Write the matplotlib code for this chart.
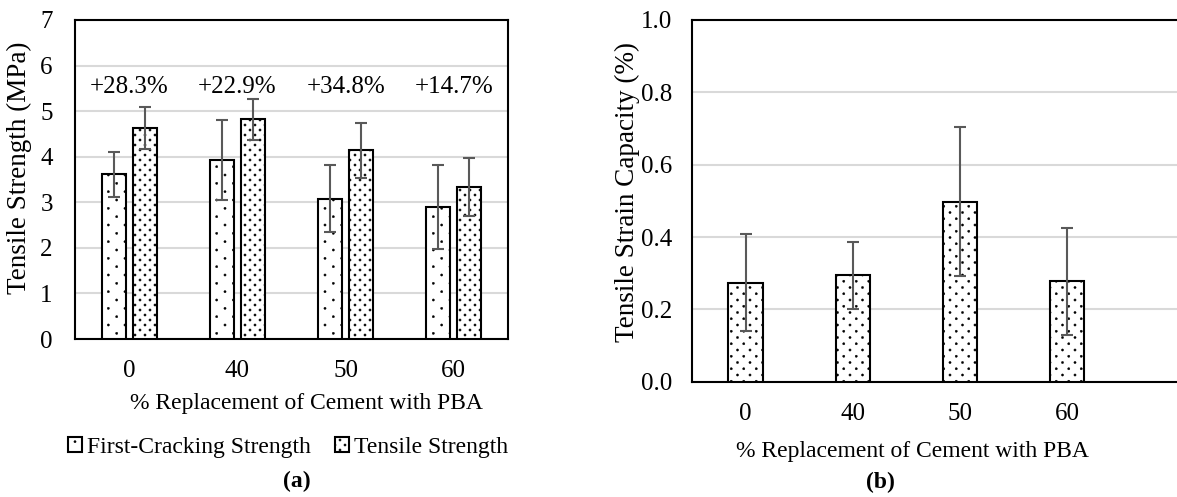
import matplotlib
matplotlib.use("Agg")
import matplotlib.pyplot as plt
import matplotlib.hatch as mhatch
from matplotlib.path import Path
import numpy as np

plt.rcParams['font.family'] = ['Liberation Serif', 'DejaVu Serif']
plt.rcParams['hatch.linewidth'] = 0.3

categories = ["0", "40", "50", "60"]
first_crack = [3.61, 3.92, 3.08, 2.90]
first_crack_err = [0.49, 0.88, 0.73, 0.92]
tensile = [4.63, 4.82, 4.14, 3.33]
tensile_err = [0.47, 0.45, 0.60, 0.64]
increase_labels = ["+28.3%", "+22.9%", "+34.8%", "+14.7%"]
label_y = 5.53

strain = [0.274, 0.294, 0.497, 0.278]
strain_err = [0.135, 0.092, 0.206, 0.148]


# custom dotted hatch lattices (rows, cols per inch) keyed by number of '.'
class DotLattice(mhatch.HatchPatternBase):
    CONF = {1: (12, 6), 2: (16, 8), 3: (20, 10)}
    R = 0.011

    def __init__(self, hatch, density):
        n = hatch.count('.')
        self.conf = self.CONF.get(n)
        circ = Path.unit_circle()
        self.sv = circ.vertices * self.R
        self.sc = circ.codes
        if self.conf is None:
            self.num_vertices = 0
            self.pts = []
            return
        rows, cols = self.conf
        pts = []
        for r in range(rows + 1):
            yy = r / rows
            if r % 2 == 0:
                xs = np.arange(cols + 1) / cols
            else:
                xs = (np.arange(cols) + 0.5) / cols
            for xx in xs:
                pts.append((xx, yy))
        self.pts = pts
        self.num_vertices = len(pts) * len(self.sv)

    def set_vertices_and_codes(self, vertices, codes):
        np.concatenate([self.sv + np.array(p) for p in self.pts], out=vertices)
        np.concatenate([self.sc for _ in self.pts], out=codes)


mhatch._hatch_types = [DotLattice if t is mhatch.SmallFilledCircles else t
                       for t in mhatch._hatch_types]

FS = 18      # ticks / annotations
FS_L = 17    # long horizontal texts
FS_Y = 19.5  # y-axis titles
W, H = 1177, 497
fig = plt.figure(figsize=(W / 100, H / 100), dpi=100)

grid_c = '#d9d9d9'
err_c = '#595959'

# ---- Panel (a)
ax1 = fig.add_axes([75 / W, 1 - 339 / H, 433 / W, 319 / H])
x = np.arange(len(categories))
bw = 0.22
off = 0.143
ax1.bar(x - off, first_crack, bw, facecolor='white', edgecolor='black', linewidth=1.5,
        hatch='.', label='First-Cracking Strength', zorder=3)
ax1.bar(x + off, tensile, bw, facecolor='white', edgecolor='black', linewidth=1.5,
        hatch='...', label='Tensile Strength', zorder=3)
ax1.errorbar(x - off, first_crack, yerr=first_crack_err, fmt='none', ecolor=err_c,
             elinewidth=1.5, capsize=4.5, capthick=1.5, zorder=4)
ax1.errorbar(x + off, tensile, yerr=tensile_err, fmt='none', ecolor=err_c,
             elinewidth=1.5, capsize=4.5, capthick=1.5, zorder=4)
for xi, t in zip(x, increase_labels):
    ax1.text(xi, label_y, t, ha='center', va='center', fontsize=FS)
ax1.set_xlim(-0.5, 3.5)
ax1.set_ylim(0, 7)
ax1.set_yticks(np.arange(0, 8, 1))
ax1.set_xticks(x)
ax1.set_xticklabels(categories)
ax1.yaxis.grid(True, color=grid_c, linewidth=1.5, zorder=0)
ax1.set_axisbelow(True)
ax1.tick_params(axis='both', length=0, labelsize=FS)
ax1.tick_params(axis='y', pad=16)
ax1.tick_params(axis='x', pad=15)
for s in ax1.spines.values():
    s.set_linewidth(1.5)
    s.set_color('black')
ax1.set_ylabel('Tensile Strength (MPa)', fontsize=FS_Y)
ax1.yaxis.set_label_coords(-(75 - 32) / 433, 1 - (168 - 20) / 319)
fig.text(306 / W, 1 - 404 / H, '% Replacement of Cement with PBA', fontsize=FS_L,
         ha='center', va='center')
h, l = ax1.get_legend_handles_labels()
fig.legend(h, l, loc='center', bbox_to_anchor=(288 / W, 1 - 447 / H), ncol=2,
           frameon=False, fontsize=FS_L, handlelength=0.6, handleheight=0.6,
           handletextpad=0.2, columnspacing=1.0, borderpad=0)
fig.text(297 / W, 1 - 481 / H, '(a)', fontsize=FS - 1, fontweight='bold',
         ha='center', va='center')

# ---- Panel (b)
extra = 0.01
ax2 = fig.add_axes([692 / W, 1 - 381.7 / H, (W - 692) / W + extra, 361.7 / H])
bw2 = 0.32
ax2.bar(x, strain, bw2, facecolor='white', edgecolor='black', linewidth=1.5,
        hatch='..', zorder=3)
ax2.errorbar(x, strain, yerr=strain_err, fmt='none', ecolor=err_c,
             elinewidth=1.5, capsize=4.5, capthick=1.5, zorder=4)
span = (W - 692 + extra * W) / 107.2
ax2.set_xlim(-0.5, -0.5 + span)
ax2.set_ylim(0, 1.0)
yt2 = np.arange(0, 1.01, 0.2)
ax2.set_yticks(yt2)
ax2.set_yticklabels([f'{v:.1f}' for v in yt2])
ax2.set_xticks(x)
ax2.set_xticklabels(categories)
ax2.yaxis.grid(True, color=grid_c, linewidth=1.5, zorder=0)
ax2.set_axisbelow(True)
ax2.tick_params(axis='both', length=0, labelsize=FS)
ax2.tick_params(axis='y', pad=14)
ax2.tick_params(axis='x', pad=15)
for s in ax2.spines.values():
    s.set_linewidth(1.5)
    s.set_color('black')
ax2.spines['right'].set_visible(False)
ax2.set_ylabel('Tensile Strain Capacity (%)', fontsize=FS_Y)
ax2.yaxis.set_label_coords(-(692 - 640) / (W - 692 + extra * W), 1 - (192 - 20) / 361.7)
fig.text(912 / W, 1 - 451.7 / H, '% Replacement of Cement with PBA', fontsize=FS_L,
         ha='center', va='center')
fig.text(880 / W, 1 - 482 / H, '(b)', fontsize=FS - 1, fontweight='bold',
         ha='center', va='center')

fig.savefig('out.png', dpi=100)
